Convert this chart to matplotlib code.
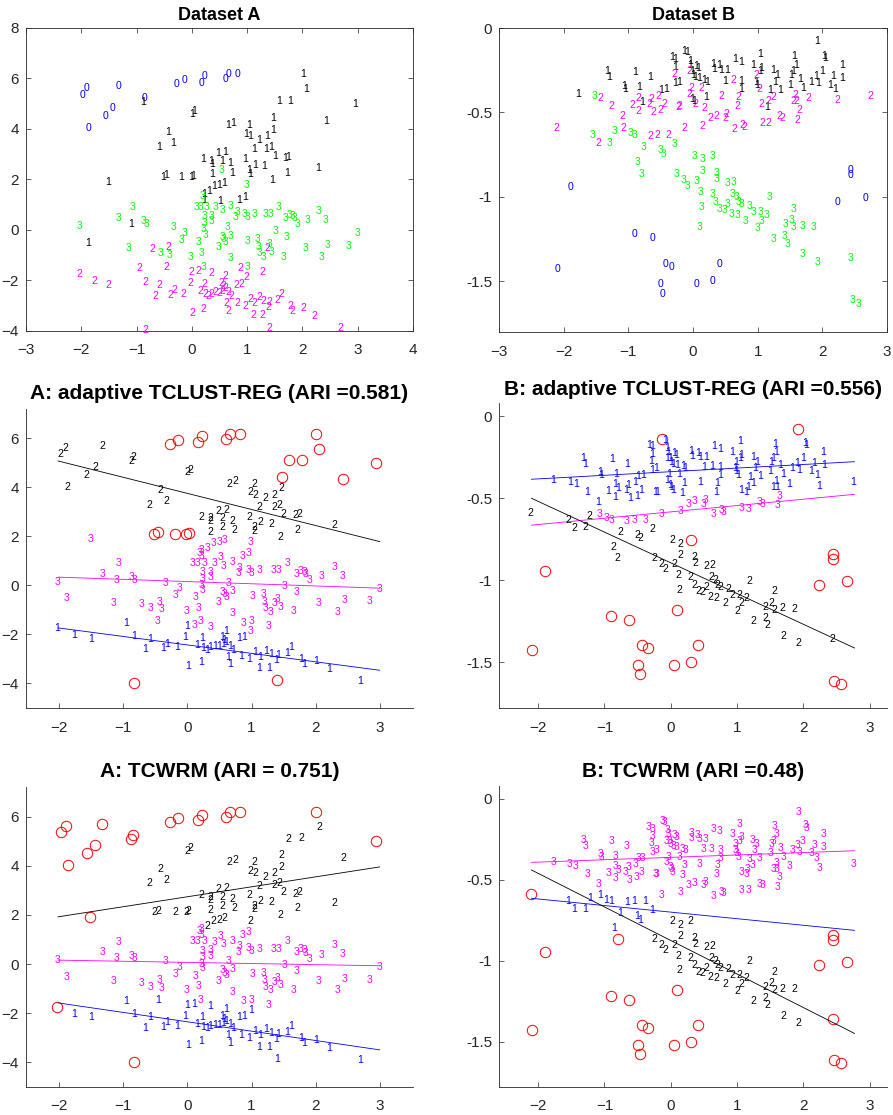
import matplotlib
matplotlib.use("Agg")
import matplotlib.pyplot as plt

plt.rcParams['font.family'] = ['Liberation Sans', 'DejaVu Sans']

# ---------------- Dataset A ----------------
# every group: points (x, y) and labels (true, adaptive TCLUST-REG, TCWRM)
a_t0_r2_c0 = [(-1.98, 5.36), (-1.90, 5.61), (-1.87, 4.03), (-1.57, 4.50), (-1.44, 4.84),
              (-1.33, 5.70), (-0.85, 5.24)]
a_t1_r2_c0 = [(-0.88, 5.07)]
a_t0_r0_c0 = [(-0.28, 5.78), (-0.14, 5.95), (0.17, 5.84), (0.23, 6.08), (0.60, 5.97),
              (0.67, 6.19), (0.82, 6.19)]
a_t1_r0_c0 = [(2.01, 6.19), (2.95, 5.00)]
a_t1_r3_c0 = [(-1.52, 1.90)]
a_t2_r1_c0 = [(-2.03, -1.75)]
a_t2_r0_c0 = [(-0.84, -3.98)]
a_t1_r0_c2 = [(2.06, 5.58), (1.58, 5.10), (1.78, 5.12), (2.43, 4.33), (1.47, 4.43),
              (-0.52, 2.10), (-0.46, 2.17), (-0.19, 2.10), (-0.02, 2.11), (0.02, 2.14)]
a_t1_r2_c2 = [(0.00, 4.61), (0.05, 4.71), (0.65, 4.15), (0.75, 4.25), (1.04, 4.16),
              (0.98, 3.80), (1.06, 3.71), (1.22, 3.55), (1.36, 3.71), (1.47, 3.96),
              (1.12, 3.19), (1.35, 3.21), (1.44, 3.28), (1.50, 2.93), (1.69, 2.86),
              (1.75, 2.91), (2.29, 2.47), (-0.43, 3.88), (-0.59, 3.28), (-0.33, 3.43),
              (0.21, 2.80), (0.35, 2.74), (0.36, 2.61), (0.48, 3.05), (0.61, 3.08),
              (0.55, 2.74), (0.70, 2.64), (0.96, 2.80), (1.14, 2.58), (1.04, 2.38),
              (1.05, 2.22), (1.31, 2.52), (1.72, 2.26), (1.45, 1.98), (0.73, 2.26),
              (0.36, 2.20)]
a_t3_r2_c2 = [(0.54, 2.38)]
a_t1_r3_c2 = [(0.31, 1.54), (0.40, 1.74), (0.50, 1.78), (0.58, 1.87)]
a_t3_r3_c2 = [(0.98, 1.77)]
a_t1_r3_c3 = [(0.22, 1.43), (0.22, 1.19), (0.51, 1.16), (0.86, 1.19), (0.96, 1.32),
              (-1.10, 0.24), (-1.88, -0.53)]
a_t3_r3_c3 = [(-2.03, 0.15), (-1.32, 0.47), (-1.07, 0.91), (-0.87, 0.34), (-0.82, 0.23),
              (-1.15, -0.70), (-0.57, -0.93), (-0.40, -0.98), (-0.34, 0.11), (-0.19, -0.39),
              (-0.13, -0.11), (-0.02, -1.05), (0.17, -0.90), (0.12, -0.49), (0.21, -1.46),
              (0.08, 0.92), (0.16, 0.93), (0.26, 0.92), (0.19, 1.33), (0.23, 0.54),
              (0.23, 0.27), (0.22, 0.02), (0.24, -0.18), (0.36, 0.56), (0.36, 0.34),
              (0.42, 0.91), (0.56, 0.80), (0.70, 0.95), (0.48, -0.69), (0.55, -0.26),
              (0.64, 0.12), (0.70, -0.22), (0.61, -0.46), (0.58, -0.35), (0.70, -1.12),
              (0.79, 0.50), (0.82, 0.72), (0.96, 0.64), (1.00, 0.52), (1.13, 0.62),
              (1.01, -0.42), (1.19, -0.36), (1.20, -0.66), (1.22, -0.92), (1.30, -1.07),
              (1.41, -0.57), (1.45, -0.87), (1.34, 0.62), (1.42, 0.62), (1.56, 0.93),
              (1.52, -0.04), (1.71, -0.27), (1.65, -1.06), (1.70, 0.47), (1.76, 0.61),
              (1.82, 0.56), (1.85, 0.46), (1.91, 0.22), (2.10, 0.38), (2.29, 0.76),
              (2.42, 0.40), (2.05, -0.70), (2.34, -1.07), (2.45, -0.59), (2.84, -0.65),
              (3.00, -0.13), (1.00, -1.46)]
a_t2_r3_c3 = [(-0.72, -0.77), (-0.43, -0.66), (1.36, -0.73), (0.88, -1.52), (1.27, -1.65)]
a_t2_r3_c1 = [(-0.46, -1.46), (0.11, -1.63), (0.36, -1.69), (0.99, -1.86)]
a_t2_r1_c1 = [(-0.95, -1.52), (-0.01, -1.65), (-1.77, -2.03), (-1.51, -2.17), (-0.84, -2.05),
              (-0.66, -2.61), (-0.59, -2.17), (-0.38, -2.57), (-0.31, -2.37), (-0.16, -2.52),
              (-0.03, -2.11), (0.01, -3.29), (0.21, -3.11), (0.15, -2.42), (0.23, -2.15),
              (0.24, -2.55), (0.30, -2.62), (0.36, -2.52), (0.43, -2.47), (0.49, -2.48),
              (0.55, -2.40), (0.60, -2.30), (0.54, -2.11), (0.61, -1.84), (0.57, -2.23),
              (0.63, -2.90), (0.66, -3.22), (0.66, -2.45), (0.71, -2.62), (0.80, -2.16),
              (0.89, -2.12), (0.83, -2.88), (0.96, -3.00), (1.05, -2.72), (1.13, -2.90),
              (1.23, -2.66), (1.30, -2.81), (1.38, -3.05), (1.41, -2.85), (1.12, -3.38),
              (1.27, -3.38), (1.55, -2.77), (1.62, -2.53), (1.78, -3.00), (1.82, -3.22),
              (2.01, -3.08), (2.21, -3.42), (2.69, -3.90)]
a_t2_r0_c1 = [(1.40, -3.87)]

A_SETS = [(a_t0_r2_c0, (0, 2, 0)), (a_t1_r2_c0, (1, 2, 0)), (a_t0_r0_c0, (0, 0, 0)),
          (a_t1_r0_c0, (1, 0, 0)), (a_t1_r3_c0, (1, 3, 0)), (a_t2_r1_c0, (2, 1, 0)),
          (a_t2_r0_c0, (2, 0, 0)), (a_t1_r0_c2, (1, 0, 2)), (a_t1_r2_c2, (1, 2, 2)),
          (a_t3_r2_c2, (3, 2, 2)), (a_t1_r3_c2, (1, 3, 2)), (a_t3_r3_c2, (3, 3, 2)),
          (a_t1_r3_c3, (1, 3, 3)), (a_t3_r3_c3, (3, 3, 3)), (a_t2_r3_c3, (2, 3, 3)),
          (a_t2_r3_c1, (2, 3, 1)), (a_t2_r1_c1, (2, 1, 1)), (a_t2_r0_c1, (2, 0, 1))]

# fitted regression lines (x ends, y ends) per cluster
a_line_x = [-2.02, 3.0]
a_reg_lines = {2: [5.08, 1.79], 3: [0.34, -0.11], 1: [-1.73, -3.46]}
a_cwrm_lines = {2: [1.92, 3.95], 3: [0.16, -0.07], 1: [-1.58, -3.49]}

# ---------------- Dataset B ----------------
b_t0_r0_c0 = [(-1.90, -0.944), (-2.09, -1.425), (-0.90, -1.217), (-0.63, -1.243),
              (-0.43, -1.395), (-0.34, -1.415), (-0.50, -1.518), (-0.47, -1.573),
              (0.05, -1.518), (0.30, -1.500), (0.41, -1.395), (2.24, -1.029),
              (2.44, -0.841), (2.44, -0.871), (2.66, -1.005)]
b_t1_r0_c3 = [(1.92, -0.079), (-0.13, -0.139)]
b_t1_r1_c3 = [(-0.09, -0.144), (-0.33, -0.174), (-0.28, -0.184), (-0.05, -0.194), (-0.04, -0.218),
              (-0.28, -0.228), (0.05, -0.224), (0.08, -0.237), (-0.015, -0.257), (0.00, -0.277),
              (0.04, -0.293), (0.09, -0.297), (0.18, -0.307), (0.22, -0.317), (0.31, -0.212),
              (0.41, -0.222), (0.32, -0.241), (0.44, -0.247), (0.53, -0.247), (0.50, -0.311),
              (0.65, -0.184), (0.74, -0.200), (1.04, -0.152), (0.93, -0.218), (1.06, -0.237),
              (1.04, -0.257), (0.97, -0.317), (0.99, -0.336), (0.75, -0.313), (0.75, -0.362),
              (1.24, -0.251), (1.30, -0.277), (1.27, -0.317), (1.19, -0.370), (1.34, -0.366),
              (1.14, -0.465), (1.55, -0.257), (1.52, -0.277), (1.57, -0.168), (1.59, -0.218),
              (1.65, -0.301), (1.50, -0.336), (1.70, -0.356), (1.83, -0.317), (1.91, -0.287),
              (1.99, -0.257), (1.94, -0.327), (2.03, -0.164), (2.04, -0.178), (2.12, -0.336),
              (2.20, -0.362), (2.16, -0.283), (2.30, -0.218), (2.31, -0.297), (-1.32, -0.253),
              (-1.29, -0.293), (-0.89, -0.261), (-0.66, -0.293), (-1.77, -0.390), (-1.06, -0.342),
              (-1.05, -0.360), (-0.83, -0.350), (-0.79, -0.439), (-0.49, -0.366), (-0.42, -0.362),
              (-0.28, -0.327), (-0.22, -0.317), (-0.01, -0.421), (0.01, -0.431), (0.20, -0.406)]
b_t2_r1_c3 = [(-1.43, -0.416), (-1.26, -0.461), (-1.09, -0.524), (-0.94, -0.455), (-0.84, -0.416),
              (-0.84, -0.491), (-0.68, -0.451), (-0.64, -0.418), (-0.53, -0.400), (-0.62, -0.499),
              (-0.51, -0.485), (-0.44, -0.449), (-0.23, -0.465), (-0.21, -0.461), (-0.29, -0.271),
              (-0.06, -0.257), (-0.06, -0.390), (-0.03, -0.356), (0.03, -0.451), (0.17, -0.471),
              (0.13, -0.356), (0.44, -0.400), (0.62, -0.307), (0.70, -0.406), (0.69, -0.461),
              (0.98, -0.277), (1.02, -0.360), (1.06, -0.451), (1.16, -0.431), (1.24, -0.406),
              (1.55, -0.435), (1.60, -0.431), (1.59, -0.396), (1.79, -0.416), (2.24, -0.425),
              (2.75, -0.402)]
b_t2_r3_c3 = [(-0.14, -0.594), (0.15, -0.578), (0.27, -0.534), (0.36, -0.520), (0.50, -0.534),
              (0.52, -0.511), (0.64, -0.598), (0.77, -0.574), (0.80, -0.584), (1.07, -0.560),
              (1.17, -0.564), (1.34, -0.524), (1.38, -0.534), (1.61, -0.544), (1.64, -0.485)]
b_t2_r3_c1 = [(-1.07, -0.594), (-0.66, -0.639), (-0.55, -0.633), (-0.38, -0.633)]
b_t2_r2_c1 = [(-1.46, -0.683)]
b_t2_r2_c0 = [(-2.11, -0.590)]
b_t3_r1_c3 = [(-1.52, -0.400)]
b_t3_r2_c1 = [(-1.55, -0.633), (-1.29, -0.679), (-1.22, -0.610), (-0.76, -0.707),
              (-0.86, -0.796), (-0.50, -0.722), (-0.46, -0.746), (-0.28, -0.689)]
b_t3_r3_c1 = [(-0.97, -0.623), (-0.90, -0.633)]
b_t3_r2_c0 = [(-0.80, -0.865), (2.44, -1.360)]
b_t3_r0_c2 = [(0.30, -0.756)]
b_t3_r0_c0 = [(0.10, -1.181), (2.46, -1.613), (2.56, -1.633)]
b_t3_r2_c2 = [(0.03, -0.756), (0.15, -0.778), (0.14, -0.845), (-0.25, -0.867), (-0.14, -0.900),
              (-0.08, -0.934), (0.05, -0.904), (0.36, -0.857), (0.37, -0.896), (0.54, -0.916),
              (0.62, -0.910), (0.11, -0.970), (0.13, -1.059), (0.30, -0.984), (0.35, -1.029),
              (0.41, -1.069), (0.48, -1.075), (0.54, -1.043), (0.61, -0.980), (0.67, -1.000),
              (0.70, -1.029), (0.75, -1.043), (0.87, -1.053), (0.59, -1.102), (0.69, -1.108),
              (0.82, -1.142), (0.93, -1.088), (1.04, -1.088), (1.14, -1.108), (1.06, -1.142),
              (1.00, -1.187), (1.19, -1.003), (1.25, -1.247), (1.42, -1.233), (1.46, -1.276),
              (1.43, -1.162), (1.52, -1.138), (1.56, -1.181), (1.56, -1.069), (1.69, -1.172),
              (1.86, -1.177), (1.70, -1.340), (1.92, -1.385)]

B_SETS = [(b_t0_r0_c0, (0, 0, 0)), (b_t1_r0_c3, (1, 0, 3)), (b_t1_r1_c3, (1, 1, 3)),
          (b_t2_r1_c3, (2, 1, 3)), (b_t2_r3_c3, (2, 3, 3)), (b_t2_r3_c1, (2, 3, 1)),
          (b_t2_r2_c1, (2, 2, 1)), (b_t2_r2_c0, (2, 2, 0)), (b_t3_r1_c3, (3, 1, 3)),
          (b_t3_r2_c1, (3, 2, 1)), (b_t3_r3_c1, (3, 3, 1)), (b_t3_r2_c0, (3, 2, 0)),
          (b_t3_r0_c2, (3, 0, 2)), (b_t3_r0_c0, (3, 0, 0)), (b_t3_r2_c2, (3, 2, 2))]

b_line_x = [-2.10, 2.77]
b_reg_lines = {1: [-0.385, -0.278], 3: [-0.665, -0.477], 2: [-0.501, -1.414]}
b_cwrm_lines = {3: [-0.392, -0.320], 1: [-0.614, -0.812], 2: [-0.439, -1.449]}

titles = ['Dataset A', 'Dataset B',
          'A: adaptive TCLUST-REG (ARI =0.581)', 'B: adaptive TCLUST-REG (ARI =0.556)',
          'A: TCWRM (ARI = 0.751)', 'B: TCWRM (ARI =0.48)']

COL_TRUE = {0: '#0000ff', 1: '#000000', 2: '#ff00ff', 3: '#00ff00'}
COL_FIT = {1: '#0000ff', 2: '#000000', 3: '#ff00ff'}
AX_COL = '#262626'


def unpack(sets, k):
    xs, ys, labs = [], [], []
    for pts, lab in sets:
        for x, y in pts:
            xs.append(x)
            ys.append(y)
            labs.append(lab[k])
    return xs, ys, labs


def style(ax, box):
    for s in ax.spines.values():
        s.set_linewidth(0.6)
        s.set_color(AX_COL)
    ax.tick_params(direction='in', length=3.5, width=0.5, colors=AX_COL, labelsize=11)
    ax.tick_params(axis='x', pad=9)
    ax.tick_params(axis='y', pad=5)
    if box:
        ax.tick_params(top=True, right=True)
    else:
        ax.spines['top'].set_visible(False)
        ax.spines['right'].set_visible(False)


def draw_true(ax, sets):
    xs, ys, labs = unpack(sets, 0)
    for x, y, l in zip(xs, ys, labs):
        ax.text(x, y, str(l), color=COL_TRUE[l], fontsize=7.5, ha='center', va='center')


def draw_fit(ax, sets, k, line_x, lines):
    xs, ys, labs = unpack(sets, k)
    ox = [x for x, l in zip(xs, labs) if l == 0]
    oy = [y for y, l in zip(ys, labs) if l == 0]
    ax.plot(ox, oy, 'o', ms=7.5, mfc='none', mec='#ff0000', mew=0.7, ls='none')
    for x, y, l in zip(xs, ys, labs):
        if l != 0:
            ax.text(x, y, str(l), color=COL_FIT[l], fontsize=7.5, ha='center', va='center')
    for g, yy in lines.items():
        ax.plot(line_x, yy, color=COL_FIT[g], lw=0.6)


W, H = 893, 1115
fig = plt.figure(figsize=(W / 100, H / 100), dpi=100)


def add_ax(left, right, top, bottom):
    return fig.add_axes([left / W, (H - bottom) / H, (right - left) / W, (bottom - top) / H])


ax1 = add_ax(26, 413, 28, 331)
ax2 = add_ax(499, 887, 28, 332)
ax3 = add_ax(26, 413, 409, 708)
ax4 = add_ax(499, 887, 403, 708)
ax5 = add_ax(26, 413, 787, 1087)
ax6 = add_ax(499, 887, 786, 1087)

# row 1: true labels
draw_true(ax1, A_SETS)
ax1.set_xlim(-3, 4)
ax1.set_ylim(-4, 8)
ax1.set_xticks(range(-3, 5))
ax1.set_yticks(range(-4, 9, 2))
style(ax1, True)

draw_true(ax2, B_SETS)
ax2.set_xlim(-3, 3)
ax2.set_ylim(-1.8, 0)
ax2.set_xticks(range(-3, 4))
ax2.set_yticks([-1.5, -1, -0.5, 0])
ax2.set_yticklabels(['-1.5', '-1', '-0.5', '0'])
style(ax2, True)

# rows 2 and 3: fitted clusterings
for ax, k, lines in [(ax3, 1, a_reg_lines), (ax5, 2, a_cwrm_lines)]:
    draw_fit(ax, A_SETS, k, a_line_x, lines)
    ax.set_xlim(-2.52, 3.52)
    ax.set_ylim(-5, 7.2)
    ax.set_xticks(range(-2, 4))
    ax.set_yticks(range(-4, 7, 2))
    style(ax, False)

for ax, k, lines in [(ax4, 1, b_reg_lines), (ax6, 2, b_cwrm_lines)]:
    draw_fit(ax, B_SETS, k, b_line_x, lines)
    ax.set_xlim(-2.59, 3.26)
    ax.set_ylim(-1.78, 0.08)
    ax.set_xticks(range(-2, 4))
    ax.set_yticks([-1.5, -1, -0.5, 0])
    ax.set_yticklabels(['-1.5', '-1', '-0.5', '0'])
    style(ax, False)

for ax, t, fs, pad in [(ax1, titles[0], 13, 6), (ax2, titles[1], 13, 6),
                       (ax3, titles[2], 15, 7), (ax4, titles[3], 15, 6),
                       (ax5, titles[4], 15, 7), (ax6, titles[5], 15, 6.5)]:
    ax.set_title(t, fontsize=fs, fontweight='bold', pad=pad, color='#000000')

fig.savefig('out.png', dpi=100)
